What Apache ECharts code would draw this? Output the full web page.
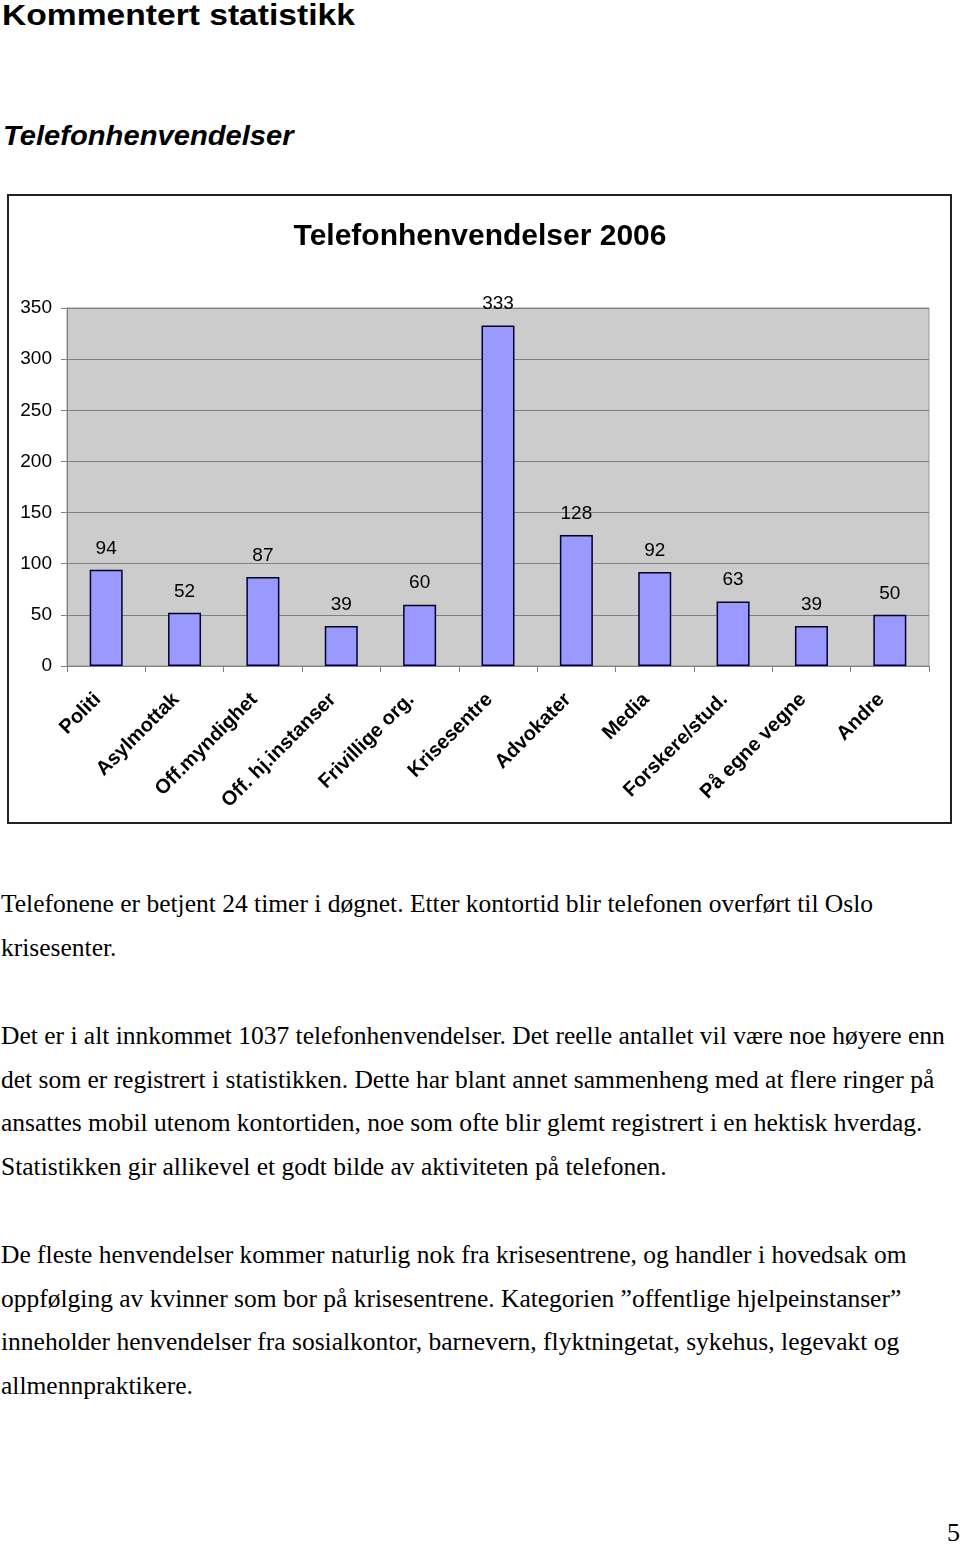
<!DOCTYPE html>
<html>
<head>
<meta charset="utf-8">
<script src="https://cdn.jsdelivr.net/npm/echarts@6/dist/echarts.min.js"></script>
<style>
  html, body { margin: 0; padding: 0; background: #fff; }
  body { width: 960px; height: 1548px; position: relative; overflow: hidden; }
  .h1 { position: absolute; left: 2px; top: -2px; font: bold 30px "Liberation Sans", Arial, sans-serif; transform-origin: 0 0; transform: scaleX(1.12); white-space: nowrap; color: #000; }
  .h2 { position: absolute; left: 3px; top: 121px; font: italic bold 27px "Liberation Sans", Arial, sans-serif; transform-origin: 0 0; transform: scaleX(1.08); white-space: nowrap; color: #000; }
  .p { position: absolute; left: 1px; font: 25.5px "Liberation Serif", "Times New Roman", serif; white-space: nowrap; color: #000; line-height: 26px; }
  #chart { position: absolute; left: 0; top: 180px; width: 960px; height: 660px; }
  .pg { position: absolute; right: 0px; top: 1518px; font: 26px "Liberation Serif", serif; }
</style>
</head>
<body>
<div class="h1">Kommentert statistikk</div>
<div class="h2">Telefonhenvendelser</div>
<div id="chart"></div>
<div class="p" style="top:891px">Telefonene er betjent 24 timer i døgnet. Etter kontortid blir telefonen overført til Oslo</div>
<div class="p" style="top:935px">krisesenter.</div>
<div class="p" style="top:1023px">Det er i alt innkommet 1037 telefonhenvendelser. Det reelle antallet vil være noe høyere enn</div>
<div class="p" style="top:1067px">det som er registrert i statistikken. Dette har blant annet sammenheng med at flere ringer på</div>
<div class="p" style="top:1110px">ansattes mobil utenom kontortiden, noe som ofte blir glemt registrert i en hektisk hverdag.</div>
<div class="p" style="top:1154px">Statistikken gir allikevel et godt bilde av aktiviteten på telefonen.</div>
<div class="p" style="top:1242px">De fleste henvendelser kommer naturlig nok fra krisesentrene, og handler i hovedsak om</div>
<div class="p" style="top:1286px">oppfølging av kvinner som bor på krisesentrene. Kategorien ”offentlige hjelpeinstanser”</div>
<div class="p" style="top:1329px">inneholder henvendelser fra sosialkontor, barnevern, flyktningetat, sykehus, legevakt og</div>
<div class="p" style="top:1373px">allmennpraktikere.</div>
<div class="pg">5</div>
<script>
const chartTitle = "Telefonhenvendelser 2006";
const categories = ["Politi", "Asylmottak", "Off.myndighet", "Off. hj.instanser", "Frivillige org.", "Krisesentre", "Advokater", "Media", "Forskere/stud.", "På egne vegne", "Andre"];
const values = [94, 52, 87, 39, 60, 333, 128, 92, 63, 39, 50];
const yTicks = { min: 0, max: 350, interval: 50 };

const chart = echarts.init(document.getElementById('chart'), null, { renderer: 'canvas' });
const font = '"Liberation Sans", Arial, sans-serif';
chart.setOption({
  animation: false,
  backgroundColor: '#fff',
  graphic: [{
    type: 'rect', z: -1,
    shape: { x: 8, y: 15, width: 943, height: 628 },
    style: { fill: 'none', stroke: '#222', lineWidth: 2 }
  }],
  title: {
    text: chartTitle, left: 'center', top: 37,
    textStyle: { fontFamily: font, fontSize: 30, fontWeight: 'bold', color: '#000' }
  },
  grid: {
    left: 67, right: 31, top: 128, bottom: 174,
    show: true, backgroundColor: '#cccccc', borderColor: '#999999', borderWidth: 1
  },
  xAxis: {
    type: 'category', data: categories,
    axisLine: { lineStyle: { color: '#808080', width: 1 } },
    axisTick: { show: true, length: 6, lineStyle: { color: '#808080' } },
    axisLabel: { rotate: 45, interval: 0, margin: 22, padding: [0, 12, 0, 0], fontFamily: font, fontSize: 20, fontWeight: 'bold', color: '#000' }
  },
  yAxis: {
    type: 'value', min: yTicks.min, max: yTicks.max, interval: yTicks.interval,
    axisLine: { show: true, lineStyle: { color: '#808080', width: 1 } },
    axisTick: { show: true, length: 6, lineStyle: { color: '#808080' } },
    splitLine: { lineStyle: { color: '#808080', width: 1 } },
    axisLabel: { margin: 15, fontFamily: font, fontSize: 19, color: '#000' }
  },
  series: [{
    type: 'bar', data: values, barWidth: 33,
    itemStyle: { color: '#9999ff', borderColor: '#000033', borderWidth: 1.5 },
    label: { show: true, position: 'top', distance: 12, fontFamily: font, fontSize: 19, color: '#000' }
  }]
});
</script>
</body>
</html>
